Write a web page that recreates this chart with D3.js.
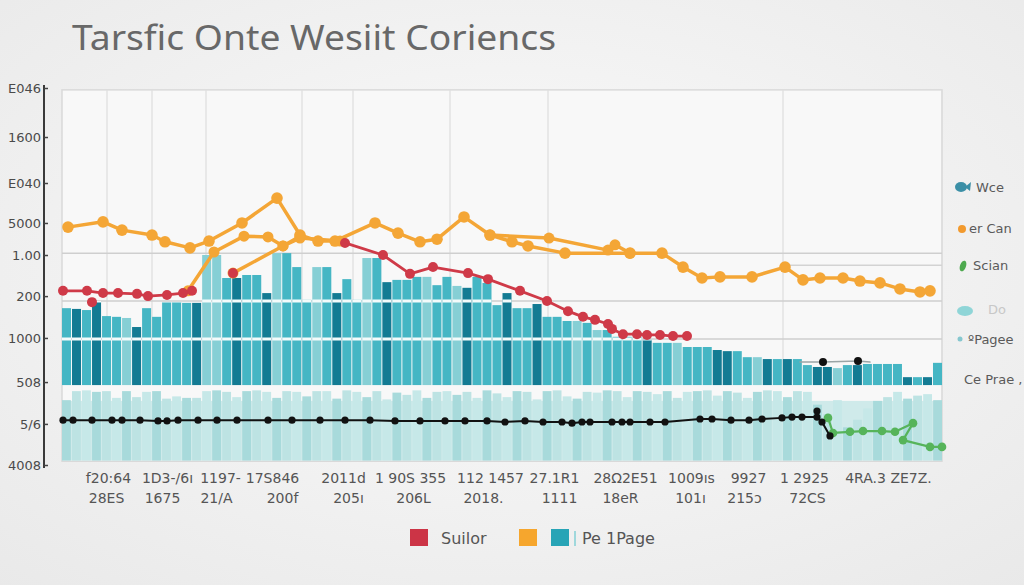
<!DOCTYPE html>
<html><head><meta charset="utf-8">
<script src="https://cdn.jsdelivr.net/npm/d3@7"></script>
<style>html,body{margin:0;padding:0;background:#f1f1f1;}svg{display:block}</style>
</head><body><svg id="c" width="1024" height="585"></svg>
<script>
// ---------- DATA ----------
const titleText = "Tarsfic Onte Wesiit Coriencs";
const yTickValues = [100, 87, 74.8, 64.2, 55.7, 44.8, 33.7, 22, 10.9, 0];
const yTickLabels = ["E046","1600","E040","5000","1.00","200","1000","508","5/6","4008"];

const xTopTicks  = [4.6, 10.5, 15.8, 21.0, 28.1, 34.8, 42.8, 49.2, 56.3, 62.9, 68.6, 74.2, 82.6];
const xTopLabels = ["f20:64","1D3-/6ı","1197-","17S846","2011d","1 90S 355","112 1457","27.1R1","28Ω2E51","1009ıs","9927","1 2925","4RA.3 ZE7Z."];
const xBotTicks  = [4.4, 10.0, 15.4, 22.0, 28.6, 35.1, 42.1, 49.7, 55.8, 62.8, 68.2, 74.5];
const xBotLabels = ["28ES","1675","21/A","200f","205ı","206L","2018.","1111","18eR","101ı","215ɔ","72CS"];

// upper (Page) bars
const upperValues = [41.6,41.4,41.1,43.5,39.5,39.3,39.0,36.6,41.6,39.3,
  43.2,43.2,43.0,43.0,55.7,55.7,49.6,49.6,50.4,50.4,
  45.6,56.2,56.2,52.5,43.8,52.5,52.5,45.6,49.3,43.8,
  54.9,54.9,48.5,49.1,49.1,49.9,49.9,47.7,49.9,47.5,
  47.0,49.9,48.3,42.4,45.6,41.6,41.6,42.7,39.3,39.3,
  38.2,38.2,37.7,35.8,35.8,34.0,34.0,34.0,33.2,32.4,
  32.4,32.4,31.3,31.3,31.3,30.5,30.2,30.2,28.6,28.6,
  28.1,28.1,28.1,28.1,26.5,26.0,26.0,25.7,26.5,26.5,
  26.8,26.8,26.8,26.8,23.3,23.3,23.3,27.1];
const upperGroup = ["m","d","m","d","m","m","l","d","m","m",
  "m","m","m","d","l","l","m","d","m","m",
  "d","l","m","m","m","l","m","d","m","m",
  "l","m","d","m","m","m","l","m","m","l",
  "d","m","m","m","d","m","m","d","m","m",
  "m","l","m","l","m","m","m","m","d","m",
  "m","l","m","m","m","d","d","m","m","l",
  "d","m","d","m","m","d","d","l","m","d",
  "m","m","m","m","d","m","d","m"];
const upperBase = 21.2;

// lower (pale) bars
const lowerValues = [17.2,19.6,19.8,19.4,19.6,17.8,19.6,18.0,19.4,19.6,
  17.6,18.2,17.8,17.8,19.6,19.8,19.4,18.0,19.6,19.8,
  19.4,17.8,19.6,19.4,18.2,19.6,19.6,17.6,19.8,19.4,
  18.0,19.6,17.4,19.2,18.6,19.8,17.8,19.4,19.6,18.6,
  19.4,17.8,19.8,19.0,18.0,19.6,19.4,17.4,19.6,19.8,
  18.2,17.6,19.4,19.2,19.8,19.6,18.0,19.6,19.4,18.8,
  19.6,17.8,19.4,19.6,19.8,18.4,19.6,19.2,17.8,19.4,
  19.8,19.6,18.0,19.6,19.4,16.0,13.5,17.2,10.0,12.0,
  15.0,17.0,18.0,19.4,17.6,18.4,18.8,17.2];
const lowerBase = 1.2;

// orange "Can" series (t = position index, v = value)
const orangeMain = [[0.6,63.1],[4.1,64.5],[6.0,62.3],[9.0,61.0],[10.3,59.2],[12.8,57.6],[14.7,59.4],[18.0,64.2],[21.5,70.8],[23.8,61.0],[25.6,59.4],[27.3,59.4],[31.3,64.2],[33.6,61.5],[35.8,59.2],[37.5,59.9],[40.2,65.8],[42.8,61.0],[45.0,59.2],[46.6,58.1],[50.3,56.2],[56.8,56.2],[60.0,56.2],[62.1,52.5],[64.0,49.6],[65.8,49.9],[69.0,49.9],[72.3,52.5],[74.1,49.1],[75.8,49.6],[78.1,49.6],[79.8,48.8],[81.8,48.3],[83.8,46.7],[85.8,45.9],[86.8,46.2]];
const orangeB = [[12.6,46.2],[15.2,56.5],[18.2,60.7],[20.6,60.5],[22.1,58.1],[23.8,60.7]];
const orangeC = [[17.1,50.9],[22.1,58.1],[23.8,60.2],[27.8,59.4]];
const orangeD = [[42.8,61.0],[48.7,60.2],[54.6,57.0],[55.3,58.4],[56.8,56.2]];

// red "Suilor" series (null = gap)
const redSeries = [[0.1,46.2],[2.5,46.2],[4.1,45.6],[5.6,45.6],[7.5,45.4],[8.6,44.8],[10.5,45.1],[12.1,45.6],[13.0,46.2],null,
  [17.1,50.9],null,
  [28.3,58.9],[32.1,55.7],[34.8,50.7],[37.1,52.5],[40.6,50.9],[42.6,49.3],[45.8,46.2],[48.5,43.5],[50.6,40.8],[52.1,39.3],[53.3,38.5],[54.6,37.4],[55.0,36.1],[56.1,34.7],[57.5,34.7],[58.5,34.5],[59.8,34.5],[61.1,34.2],[62.5,34.2]];
const redStray = [[3.0,43.2]];

// black series
const blackSeries = [[0.1,11.9],[1.1,11.9],[3.0,11.9],[5.0,11.9],[6.0,11.9],[7.8,11.9],[9.6,11.7],[10.5,11.7],[11.6,11.9],[13.6,11.9],[15.5,11.9],[17.5,11.9],[20.6,11.9],[23.0,11.9],[25.8,11.9],[28.3,11.9],[30.8,11.9],[33.3,11.7],[35.8,11.7],[38.3,11.7],[40.3,11.7],[42.5,11.7],[44.3,11.4],[46.3,11.7],[48.1,11.4],[50.0,11.4],[51.0,11.1],[52.0,11.4],[52.8,11.4],[55.0,11.4],[56.0,11.4],[56.8,11.4],[58.8,11.4],[60.3,11.4],[63.8,12.2],[65.0,12.2],[66.9,11.9],[68.7,11.9],[70.0,12.2],[72.0,12.5],[73.0,12.7],[74.0,12.7],[75.5,12.7],[76.0,11.4],[76.8,7.7]];
const blackExtra = [[75.5,14.3]];
const blackUpper = [[73.8,27.3],[76.1,27.3],[79.6,27.6],[80.8,27.3]];

// green "Scian" series
const greenSeries = [[76.6,12.5],[77.1,8.5],[78.8,8.8],[80.1,9.0],[82.0,9.0],[83.3,8.8],[85.1,11.1],[84.1,6.6],[86.8,4.8],[88.0,4.8]];

const gridX = [4.5, 9, 14.4, 24, 29.1, 38.8, 48.6, 72.1, 88];
const gridY = [56.2, 43.5, 33.4];

const legendRight = ["Wce","er Can","Scian","Do","ºPagee","Ce Prae ,"];
const legendBottom = ["Suilor","","Pe 1Page"];

// ---------- DRAW ----------
const W = 1024, H = 585;
const svg = d3.select("#c");
const defs = svg.append("defs");
const bg = defs.append("radialGradient").attr("id","bg").attr("cx","50%").attr("cy","45%").attr("r","75%");
bg.append("stop").attr("offset","0%").attr("stop-color","#fbfbfb");
bg.append("stop").attr("offset","100%").attr("stop-color","#e9e9e9");
svg.append("rect").attr("width",W).attr("height",H).attr("fill","url(#bg)");

const y = d3.scaleLinear().domain([0,100]).range([465,88]);
const xb = d3.scaleBand().domain(d3.range(upperValues.length)).range([62,942]).paddingInner(0.1);
const xl = d3.scaleLinear().domain([0,88]).range([62,942]);

// plot area
svg.append("rect").attr("x",xl(0)).attr("y",y(99.5)).attr("width",xl(88)-xl(0)).attr("height",y(1)-y(99.5))
  .attr("fill","#f8f8f8").attr("stroke","#d9d9d9").attr("stroke-width",1.5);

// grid
svg.append("g").selectAll("line").data(gridX).join("line")
  .attr("x1",d=>xl(d)).attr("x2",d=>xl(d)).attr("y1",y(99.5)).attr("y2",y(21.2))
  .attr("stroke","#dedede").attr("stroke-width",1.2);
svg.append("g").selectAll("line").data(gridY).join("line")
  .attr("x1",xl(0)).attr("x2",xl(88)).attr("y1",d=>y(d)).attr("y2",d=>y(d))
  .attr("stroke","#cfcfcf").attr("stroke-width",1.5);
svg.append("line").attr("x1",xl(72.1)).attr("x2",xl(88)).attr("y1",y(53)).attr("y2",y(53)).attr("stroke","#d3d3d3").attr("stroke-width",1.5);

// lower pale bars
const xbl = d3.scaleBand().domain(d3.range(lowerValues.length)).range([62,942]).paddingInner(0.12);
svg.append("rect").attr("x",xl(0)).attr("y",y(17)).attr("width",xl(88)-xl(0)).attr("height",y(lowerBase)-y(17)).attr("fill","#cfeaea");
svg.append("g").selectAll("rect").data(lowerValues).join("rect")
  .attr("x",(d,i)=>xbl(i)).attr("width",xbl.bandwidth())
  .attr("y",d=>y(d)).attr("height",d=>y(lowerBase)-y(d))
  .attr("fill",(d,i)=> i%3===0 ? "#a8dadb" : (i%3===1 ? "#bde3e3" : "#c6e8e8"));

// upper bars
const toneColor = d3.scaleOrdinal().domain(["m","d","l"]).range(["#45b6c4","#137b93","#86cfd5"]);
const clip = defs.append("clipPath").attr("id","barsClip");
clip.selectAll("rect").data(upperValues).join("rect")
  .attr("x",(d,i)=>xb(i)).attr("width",xb.bandwidth()).attr("y",d=>y(d)).attr("height",d=>y(upperBase)-y(d));
svg.append("g").selectAll("rect").data(upperValues).join("rect")
  .attr("x",(d,i)=>xb(i)).attr("width",xb.bandwidth())
  .attr("y",d=>y(d)).attr("height",d=>y(upperBase)-y(d))
  .attr("fill",(d,i)=>toneColor(upperGroup[i]));
// white separator lines across bars
svg.append("g").attr("clip-path","url(#barsClip)").selectAll("line").data([43.5, 33.4]).join("line")
  .attr("x1",xl(0)).attr("x2",xl(88)).attr("y1",d=>y(d)).attr("y2",d=>y(d))
  .attr("stroke","#f4fbfb").attr("stroke-width",3);

// lines
const line = d3.line().defined(d=>d!=null).x(d=>xl(d[0])).y(d=>y(d[1]));
function drawSeries(data, color, width, r, dots=true){
  svg.append("path").datum(data).attr("d",line).attr("fill","none").attr("stroke",color)
    .attr("stroke-width",width).attr("stroke-linejoin","round").attr("stroke-linecap","round");
  if (dots) svg.append("g").selectAll("circle").data(data.filter(d=>d)).join("circle")
    .attr("cx",d=>xl(d[0])).attr("cy",d=>y(d[1])).attr("r",r).attr("fill",color);
}
drawSeries(orangeB, "#f4a636", 3.5, 5.5);
drawSeries(orangeC, "#f4a636", 3.5, 5.5);
drawSeries(orangeD, "#f4a636", 3.5, 5.5);
drawSeries(orangeMain, "#f4a636", 3.5, 5.8);
drawSeries(redSeries, "#cf3a48", 2.8, 5);
drawSeries(redStray, "#cf3a48", 2.8, 5);
drawSeries(blackUpper, "#9aa5a6", 1.5, 0, false);
svg.append("g").selectAll("circle").data(blackUpper.slice(1,3)).join("circle")
  .attr("cx",d=>xl(d[0])).attr("cy",d=>y(d[1])).attr("r",4).attr("fill","#111");
drawSeries(greenSeries, "#56b45a", 2.2, 4.3);
drawSeries(blackSeries, "#111", 2, 3.6);
drawSeries(blackExtra, "#111", 2, 3.6);

// y axis
const yAxis = d3.axisLeft(y).tickValues(yTickValues).tickFormat((d,i)=>yTickLabels[i])
  .tickSizeInner(-4).tickSizeOuter(0).tickPadding(3);
const ya = svg.append("g").attr("transform","translate(44,0)").call(yAxis);
ya.select(".domain").attr("stroke","#3a3a3a").attr("stroke-width",2).attr("d","M0,85V468");
ya.selectAll(".tick line").attr("stroke","#444").attr("stroke-width",1.5);
ya.selectAll("text").attr("font-family","DejaVu Sans").attr("font-size",13).attr("fill","#4a4a4a");

// x labels (two rows)
function xRow(ticks, labels, ty){
  const ax = d3.axisBottom(xl).tickValues(ticks).tickFormat((d,i)=>labels[i]).tickSize(0).tickPadding(4);
  const g = svg.append("g").attr("transform",`translate(0,${ty})`).call(ax);
  g.select(".domain").remove();
  g.selectAll("text").attr("font-family","DejaVu Sans").attr("font-size",14).attr("fill","#555");
}
xRow(xTopTicks, xTopLabels, 469);
xRow(xBotTicks, xBotLabels, 489);

// title
svg.append("text").attr("x",72).attr("y",50).text(titleText)
  .attr("font-family","Noto Sans").attr("font-size",35).attr("fill","#686868")
  .attr("textLength",484).attr("lengthAdjust","spacingAndGlyphs");

// right legend
const rl = svg.append("g").attr("font-family","DejaVu Sans").attr("font-size",13).attr("fill","#5a5a5a");
const rlY = [192, 233, 270, 314, 344, 384];
const rlX = [976, 969, 973, 988, 968, 964];
rl.selectAll("text").data(legendRight).join("text")
  .attr("x",(d,i)=>rlX[i]).attr("y",(d,i)=>rlY[i]).text(d=>d)
  .attr("fill",(d,i)=> i===3 ? "#c8c8c8" : "#5a5a5a");
rl.append("ellipse").attr("cx",961).attr("cy",187).attr("rx",6).attr("ry",5).attr("fill","#3b8fa6");
rl.append("path").attr("d","M965,187 L971,182 L970,191 Z").attr("fill","#3b8fa6");
rl.append("circle").attr("cx",962).attr("cy",229).attr("r",4).attr("fill","#f29a2e");
rl.append("ellipse").attr("cx",963).attr("cy",266).attr("rx",3).attr("ry",5.5).attr("transform","rotate(20,963,266)").attr("fill","#4ea94f");
rl.append("ellipse").attr("cx",965).attr("cy",311).attr("rx",8).attr("ry",5).attr("fill","#8fd5d7");
rl.append("circle").attr("cx",960).attr("cy",339).attr("r",2.5).attr("fill","#86c7cf");

// bottom legend
const bl = svg.append("g").attr("font-family","DejaVu Sans").attr("font-size",16).attr("fill","#555");
const blColors = ["#cc3446","#f6a62d","#27a4b6"];
const blX = [410, 519, 551];
bl.selectAll("rect").data(legendBottom).join("rect")
  .attr("x",(d,i)=>blX[i]).attr("y",529).attr("width",18).attr("height",17).attr("fill",(d,i)=>blColors[i]);
bl.append("rect").attr("x",574).attr("y",531).attr("width",2).attr("height",15).attr("fill","#9fd8dc");
bl.selectAll("text").data(legendBottom).join("text")
  .attr("x",(d,i)=>[441,0,582][i]).attr("y",544).text(d=>d);
</script></body></html>
